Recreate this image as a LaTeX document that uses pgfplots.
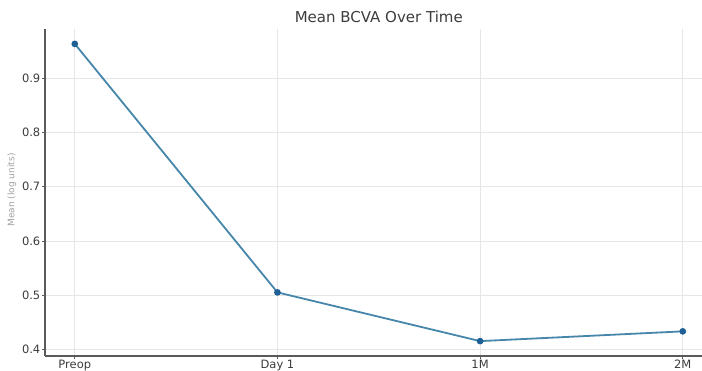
\documentclass[border=0pt]{standalone}
\usepackage{pgfplots}
\pgfplotsset{compat=1.18}
\usepackage{fontspec}
\setmainfont{DejaVu Sans}
\definecolor{linec}{RGB}{70,134,170}
\definecolor{markc}{RGB}{30,95,150}
\definecolor{gridc}{RGB}{230,230,230}
\definecolor{spinec}{RGB}{90,90,90}
\definecolor{textc}{RGB}{60,60,60}
\begin{document}
\begin{tikzpicture}[x=1pt,y=1pt]
\useasboundingbox (0,0) rectangle (702,370);
\begin{axis}[
  at={(45pt,14pt)}, anchor=south west,
  scale only axis, width=657pt, height=327pt,
  xmin=-0.147, xmax=3.095, ymin=0.3875, ymax=0.9915,
  axis x line*=bottom, axis y line*=left,
  axis line style={spinec, line width=1.4pt},
  xtick={0,1,2,3}, xticklabels={Preop,Day 1,1M,2M},
  ytick={0.4,0.5,0.6,0.7,0.8,0.9},
  yticklabel style={/pgf/number format/fixed,/pgf/number format/precision=1,/pgf/number format/fixed zerofill},
  /pgf/number format/assume math mode=true,
  tick label style={font=\fontsize{11.5}{12}\selectfont, text=textc},
  xticklabel style={inner sep=0pt, yshift=-1pt},
  yticklabel style={inner sep=1.5pt},
  tick align=outside, major tick length=3pt,
  tick style={spinec, line width=0.8pt},
  grid=major, major grid style={gridc, line width=0.9pt},
  clip=false,
]
\addplot[linec, line width=1.8pt, mark=*, mark size=2.4pt, mark options={fill=markc, draw=markc}]
 coordinates {(0,0.964) (1,0.505) (2,0.415) (3,0.433)};
\node[font=\fontsize{15}{16}\selectfont, text=textc, anchor=base] at (axis cs:1.5,0.9915) [yshift=6pt] {Mean BCVA Over Time};
\end{axis}
\node[rotate=90, font=\fontsize{9}{10}\selectfont, text={rgb,255:red,160;green,160;blue,160}] at (12,180) {Mean (log units)};
\end{tikzpicture}
\end{document}
